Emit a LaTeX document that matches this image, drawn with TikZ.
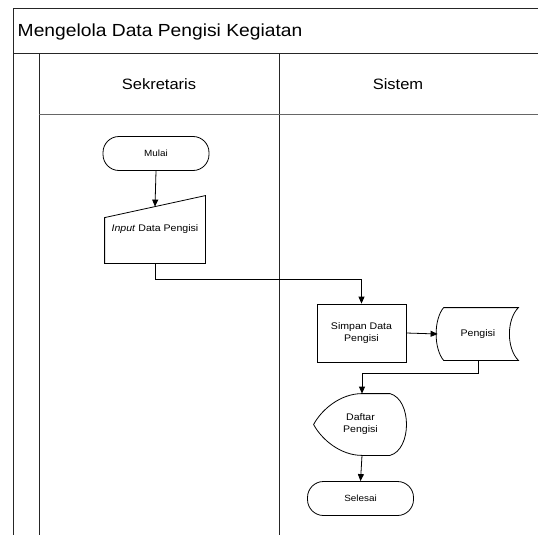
\documentclass[tikz,border=0pt]{standalone}
\usepackage{fontspec}
\setmainfont[FakeStretch=1.1]{Liberation Sans}
\usetikzlibrary{calc,arrows.meta}

\begin{document}
\begin{tikzpicture}[x=1pt,y=-1pt,line width=0.8pt,
    lane/.style={line width=1pt,color=black!85},
    terminal/.style={draw,rounded corners=16pt,minimum width=106pt,minimum height=34pt,
      font=\fontsize{9}{10}\selectfont},
    process/.style={draw,minimum width=89pt,minimum height=58pt,align=center,
      font=\fontsize{9.6}{12}\selectfont},
    flow/.style={-{Triangle[length=7pt,width=6pt]}}]
          \useasboundingbox (0,0) rectangle (538,535);
          % swimlanes
          \draw[lane] (538,9)--(13,9)--(13,535);
          \draw[lane] (13,54)--(538,54);
          \draw[lane] (39,54)--(39,535);
          \draw[lane] (279,54)--(279,535);
          \draw[lane,color=black!60] (39,114)--(538,114);
          \node[anchor=west,font=\fontsize{17.5}{20}\selectfont] (judul) at (14,31.5) {Mengelola Data Pengisi Kegiatan};
          \node[font=\fontsize{15}{18}\selectfont] (sekretaris) at (159,84) {Sekretaris};
          \node[font=\fontsize{15}{18}\selectfont] (sistem) at (398,84) {Sistem};
          % flow
          \node[terminal] (mulai) at (156,153.5) {Mulai};
          \node[minimum width=100pt,minimum height=67pt,font=\fontsize{9.6}{12}\selectfont] (input) at (155,229.5) {\textit{Input} Data Pengisi};
          \draw (input.south west)--(input.south east)--(input.north east)--($(input.north west)+(0,22)$)--cycle;
          \coordinate (inputtop) at ($(input.north)+(0,11)$);
          \node[process] (simpan) at (361.5,333) {Simpan Data\\Pengisi};
          \node[minimum width=80pt,minimum height=52pt,font=\fontsize{9.6}{12}\selectfont] (pengisi) at (478,334) {Pengisi};
          \draw ($(pengisi.north west)+(6,0)$)--(pengisi.north east)
                .. controls ($(pengisi.north east)+(-12,12)$) and ($(pengisi.south east)+(-12,-12)$) .. (pengisi.south east)
                --($(pengisi.south west)+(6,0)$)
                .. controls ($(pengisi.south west)+(-4,-12)$) and ($(pengisi.north west)+(-4,12)$) .. ($(pengisi.north west)+(6,0)$);
          \node[minimum width=93pt,minimum height=61pt,align=center,font=\fontsize{9.6}{12}\selectfont] (daftar) at (360.5,424.5) {Daftar\\Pengisi};
          \draw ($(daftar.north)+(1.5,0)$)--($(daftar.north)+(29.5,0)$)
                .. controls ($(daftar.north)+(51.5,6)$) and ($(daftar.south)+(51.5,-6)$) .. ($(daftar.south)+(29.5,0)$)
                --($(daftar.south)+(1.5,0)$)
                .. controls ($(daftar.south)+(-20,0)$) and ($(daftar.west)+(8,15)$) .. (daftar.west)
                .. controls ($(daftar.west)+(8,-15)$) and ($(daftar.north)+(-20,0)$) .. ($(daftar.north)+(1.5,0)$);
          \node[terminal] (selesai) at (360.5,498.5) {Selesai};
          % connectors
          \draw[flow] (mulai.south)--(inputtop);
          \draw[flow] (input.south)--++(0,16)-|(simpan.north);
          \draw[flow] (simpan.east)--(pengisi.west);
          \draw[flow] (pengisi.south)--++(0,13)-|($(daftar.north)+(1.5,0)$);
          \draw[flow] ($(daftar.south)+(1.5,0)$)--(selesai.north);
        \end{tikzpicture}
\end{document}
